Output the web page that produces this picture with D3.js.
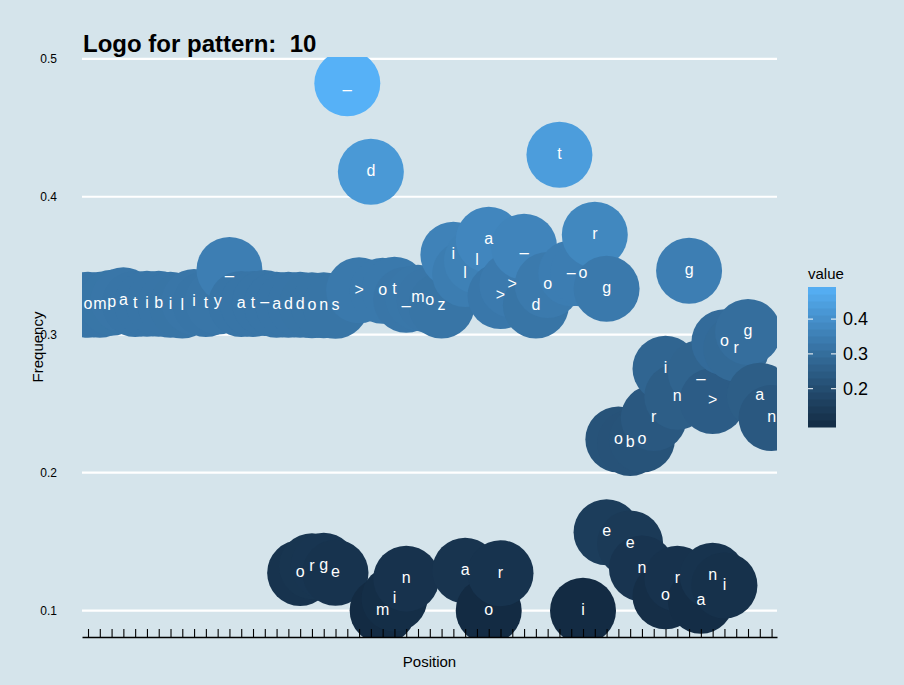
<!DOCTYPE html>
<html>
<head>
<meta charset="utf-8">
<script src="https://cdn.jsdelivr.net/npm/d3@7"></script>
<style>
	body { margin: 0; background: #d5e4eb; }
	svg { display: block; font-family: "Liberation Sans", Arial, Helvetica, sans-serif; }
</style>
</head>
<body>
<svg id="chart" width="904" height="685"></svg>
<script>
var chartTitle = "Logo for pattern:  10";

var letters = [
	"o", "m", "p", "a", "t", "i", "b", "i", "l", "i", "t", "y",
	"_", "a", "t", "\u2013", "a", "d", "d", "o", "n", "s",
	"_", ">", "d", "o", "t", "_", "m", "o", "z",
	"i", "l", "l", "a", ">", ">", "_", "d", "o", "t", "\u2013", "o", "r", "g",
	"o", "b", "o", "r", "i", "n", "g", "_", ">", "o", "r", "g", "a", "n",
	"o", "r", "g", "e", "m", "i", "n", "a", "o", "r",
	"i", "e", "e", "n", "o", "r", "a", "n", "i"
];
var positions = [
	1, 2, 3, 4, 5, 6, 7, 8, 9, 10, 11, 12,
	13, 14, 15, 16, 17, 18, 19, 20, 21, 22,
	23, 24, 25, 26, 27, 28, 29, 30, 31,
	32, 33, 34, 35, 36, 37, 38, 39, 40, 41, 42, 43, 44, 45,
	46, 47, 48, 49, 50, 51, 52, 53, 54, 55, 56, 57, 58, 59,
	19, 20, 21, 22, 26, 27, 28, 33, 35, 36,
	43, 45, 47, 48, 50, 51, 53, 54, 55
];
var frequencies = [
	0.3217, 0.3217, 0.3232, 0.325, 0.3223, 0.3225, 0.3225, 0.3217, 0.3212, 0.3237, 0.3223, 0.324,
	0.347, 0.3223, 0.3223, 0.323, 0.3217, 0.3217, 0.3217, 0.3214, 0.3214, 0.321,
	0.4822, 0.3322, 0.4181, 0.3319, 0.3326, 0.3254, 0.3268, 0.325, 0.3212,
	0.358, 0.344, 0.3536, 0.3688, 0.328, 0.3362, 0.3638, 0.3212, 0.336, 0.4304, 0.3445, 0.3443, 0.3725, 0.3333,
	0.2241, 0.2215, 0.2241, 0.2396, 0.2754, 0.2551, 0.3464, 0.2725, 0.252, 0.2946, 0.29, 0.302, 0.2557, 0.2396,
	0.1273, 0.1322, 0.1326, 0.1274, 0.1001, 0.1087, 0.1232, 0.129, 0.1, 0.1271,
	0.1, 0.1569, 0.1486, 0.1306, 0.1105, 0.1232, 0.1072, 0.1253, 0.1183
];
var xTicks = d3.range(1, 60);
var yTicks = [0.1, 0.2, 0.3, 0.4, 0.5];
var legendTicks = [0.2, 0.3, 0.4];

var panel = { left: 82, right: 777, top: 57, bottom: 637 };
var pointRadius = 33;

var records = letters.map(function(d, i) {
	return { letter: d, position: positions[i], value: frequencies[i] };
});

var svg = d3.select("#chart");
svg.append("rect")
	.attr("width", 904)
	.attr("height", 685)
	.attr("fill", "#d5e4eb");

var extent = d3.extent(frequencies);
var pad = (extent[1] - extent[0]) * 0.05;

var x = d3.scaleLinear()
	.domain([0.49, 59.46])
	.range([panel.left, panel.right]);
var y = d3.scaleLinear()
	.domain([extent[0] - pad, extent[1] + pad])
	.range([panel.bottom, panel.top]);
var color = d3.scaleLinear()
	.domain(extent)
	.range(["#132B43", "#56B1F7"])
	.interpolate(d3.interpolateLab);

svg.append("clipPath")
	.attr("id", "panel-clip")
	.append("rect")
	.attr("x", panel.left)
	.attr("y", panel.top)
	.attr("width", panel.right - panel.left)
	.attr("height", panel.bottom - panel.top);

// grid
svg.append("g")
	.selectAll("line")
	.data(yTicks)
	.enter()
	.append("line")
	.attr("x1", panel.left)
	.attr("x2", panel.right)
	.attr("y1", function(d) { return y(d); })
	.attr("y2", function(d) { return y(d); })
	.attr("stroke", "#ffffff")
	.attr("stroke-width", 2.2);

var plot = svg.append("g").attr("clip-path", "url(#panel-clip)");

plot.selectAll("circle.node")
	.data(records)
	.enter()
	.append("circle")
	.attr("class", "node")
	.attr("cx", function(d) { return x(d.position); })
	.attr("cy", function(d) { return y(d.value); })
	.attr("r", pointRadius)
	.attr("fill", function(d) { return color(d.value); });

plot.selectAll("text.letter")
	.data(records)
	.enter()
	.append("text")
	.attr("class", "letter")
	.attr("x", function(d) { return x(d.position); })
	.attr("y", function(d) { return y(d.value); })
	.attr("dy", "0.27em")
	.attr("text-anchor", "middle")
	.attr("fill", "#ffffff")
	.style("font-size", "16px")
	.text(function(d) { return d.letter; });

// y axis labels only
svg.append("g")
	.selectAll("text")
	.data(yTicks)
	.enter()
	.append("text")
	.attr("x", 57)
	.attr("y", function(d) { return y(d); })
	.attr("dy", "0.35em")
	.attr("text-anchor", "end")
	.style("font-size", "12px")
	.text(function(d) { return d3.format(".1f")(d); });

// x axis, ticks pointing up into the panel
var xAxis = d3.axisBottom(x)
	.tickValues(xTicks)
	.tickSize(-8)
	.tickSizeOuter(0)
	.tickFormat("");
var xAxisG = svg.append("g")
	.attr("transform", "translate(0," + panel.bottom + ")")
	.call(xAxis);
xAxisG.selectAll("line").attr("stroke", "#000").attr("stroke-width", 1.1);
xAxisG.select(".domain").attr("stroke", "#000").attr("stroke-width", 1.3);

// titles
svg.append("text")
	.attr("x", 83)
	.attr("y", 52)
	.style("font-size", "24px")
	.style("font-weight", "bold")
	.attr("xml:space", "preserve")
	.text(chartTitle);

svg.append("text")
	.attr("x", (panel.left + panel.right) / 2)
	.attr("y", 667)
	.attr("text-anchor", "middle")
	.style("font-size", "15px")
	.text("Position");

svg.append("text")
	.attr("transform", "translate(43," + ((panel.top + panel.bottom) / 2) + ") rotate(-90)")
	.attr("text-anchor", "middle")
	.style("font-size", "15px")
	.text("Frequency");

// colour bar legend
var legend = { x: 808, top: 287, width: 28, height: 140, bins: 20 };
var binH = legend.height / legend.bins;
var legendG = svg.append("g");
legendG.append("text")
	.attr("x", legend.x)
	.attr("y", 279)
	.style("font-size", "15px")
	.text("value");
legendG.selectAll("rect")
	.data(d3.range(legend.bins))
	.enter()
	.append("rect")
	.attr("x", legend.x)
	.attr("y", function(i) { return legend.top + legend.height - (i + 1) * binH; })
	.attr("width", legend.width)
	.attr("height", binH + 0.5)
	.attr("fill", function(i) {
		return color(extent[0] + (i + 0.5) / legend.bins * (extent[1] - extent[0]));
	});
var legendY = d3.scaleLinear()
	.domain(extent)
	.range([legend.top + legend.height - binH / 2, legend.top + binH / 2]);
legendTicks.forEach(function(v) {
	var ty = legendY(v);
	legendG.append("line")
		.attr("x1", legend.x).attr("x2", legend.x + 5)
		.attr("y1", ty).attr("y2", ty)
		.attr("stroke", "#ffffff").attr("stroke-width", 1);
	legendG.append("line")
		.attr("x1", legend.x + legend.width - 5).attr("x2", legend.x + legend.width)
		.attr("y1", ty).attr("y2", ty)
		.attr("stroke", "#ffffff").attr("stroke-width", 1);
	legendG.append("text")
		.attr("x", 843)
		.attr("y", ty)
		.attr("dy", "0.35em")
		.style("font-size", "18px")
		.text(d3.format(".1f")(v));
});
</script>
</body>
</html>
